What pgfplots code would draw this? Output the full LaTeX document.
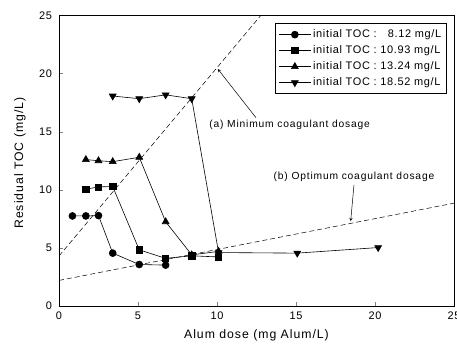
\documentclass[border=0pt]{standalone}
\usepackage{fontspec}
\setmainfont{Liberation Sans}
\usepackage{pgfplots}
\pgfplotsset{compat=1.18}
\newcommand\lblfont{\fontsize{12.3}{14}\selectfont\addfontfeature{LetterSpace=8}}
\newcommand\tickfont{\fontsize{11}{13}\selectfont\addfontfeature{LetterSpace=5}}
\newcommand\legfont{\fontsize{11}{13}\selectfont\addfontfeature{LetterSpace=6}}
\newcommand\annfont{\fontsize{10.3}{12}\selectfont\addfontfeature{LetterSpace=8}}
\begin{document}
\begin{tikzpicture}[x=1bp,y=1bp]
\begin{axis}[
  scale only axis,
  width=395bp, height=290.5bp,
  xmin=0, xmax=25, ymin=0, ymax=25,
  xtick={0,5,10,15,20,25}, ytick={0,5,10,15,20,25},
  tick align=inside,
  xtick pos=bottom, ytick pos=left,
  major tick length=4bp,
  /pgf/number format/assume math mode=true,
  tick label style={font=\tickfont},
  xticklabel style={yshift=-2.5bp},
  yticklabel style={xshift=-3.5bp},
  xlabel={Alum dose (mg Alum/L)},
  ylabel={Residual TOC (mg/L)},
  every axis x label/.style={at={(axis description cs:0.5,-0.0998)}, anchor=center, font=\lblfont},
  every axis y label/.style={at={(axis description cs:-0.0987,0.492)}, rotate=90, anchor=center, font=\lblfont},
  axis line style={line width=0.9pt},
  legend style={at={(0.981,0.973)}, anchor=north east, draw=black, line width=0.6pt,
    font=\legfont, row sep=0pt, inner xsep=3pt, inner ysep=3pt,
    nodes={text height=8.5bp, text depth=2.5bp, inner ysep=2.5bp, inner xsep=2bp}},
  legend cell align=left,
  legend image code/.code={\draw[mark repeat=2, mark phase=2] plot coordinates {(0bp,0bp) (16bp,0bp) (32bp,0bp)};},
  every axis plot/.append style={line width=0.6pt, black, mark size=3.5pt},
  clip=true,
]
\addplot[mark=*] coordinates {(0.85,7.75) (1.7,7.75) (2.5,7.78) (3.4,4.55) (5.08,3.57) (6.75,3.52)};
\addlegendentry{initial TOC :\ \ \ 8.12 mg/L}
\addplot[mark=square*, mark size=3.1pt] coordinates {(1.7,10.05) (2.5,10.25) (3.4,10.28) (5.08,4.83) (6.75,4.1) (8.4,4.32) (10.1,4.22)};
\addlegendentry{initial TOC : 10.93 mg/L}
\addplot[mark=triangle*, mark size=4pt] coordinates {(1.7,12.6) (2.5,12.5) (3.4,12.42) (5.08,12.8) (6.75,7.25) (8.4,4.4) (10.1,4.7)};
\addlegendentry{initial TOC : 13.24 mg/L}
\addplot[mark=triangle*, mark size=4pt, mark options={rotate=180}] coordinates {(3.4,18.07) (5.08,17.84) (6.75,18.17) (8.4,17.84) (10.1,4.6) (15.08,4.55) (20.2,5.03)};
\addlegendentry{initial TOC : 18.52 mg/L}
\addplot[dashed, dash pattern=on 5pt off 3pt, line width=0.5pt, forget plot] coordinates {(0,4.3) (12.77,25)};
\addplot[dashed, dash pattern=on 5pt off 3pt, line width=0.5pt, forget plot] coordinates {(0,2.2) (25,8.85)};
\draw[->, >=stealth, line width=0.5pt] (axis cs:12.47,16.2) -- (axis cs:10.05,20.4);
\node[font=\annfont] at (axis cs:14.6,15.6) {(a) Minimum coagulant dosage};
\draw[->, >=stealth, line width=0.5pt] (axis cs:18.67,10.43) -- (axis cs:18.46,7.3);
\node[font=\annfont] at (axis cs:18.67,11.15) {(b) Optimum coagulant dosage};
\end{axis}
\pgfresetboundingbox
\path[use as bounding box] ([xshift=-59bp,yshift=-43bp]current axis.south west) rectangle ([xshift=3bp,yshift=15.5bp]current axis.north east);
\end{tikzpicture}
\end{document}
